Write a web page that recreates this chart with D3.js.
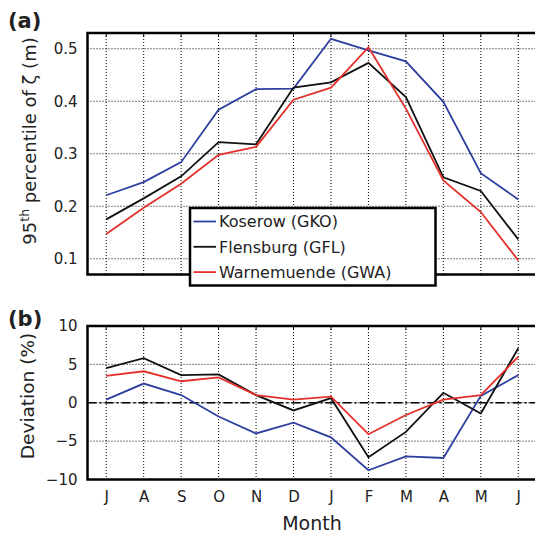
<!DOCTYPE html>
<html>
<head>
<meta charset="utf-8">
<script src="https://cdn.jsdelivr.net/npm/d3@7"></script>
<style>
  html, body { margin: 0; padding: 0; background: #fff; }
  svg { display: block; }
  text { font-family: "DejaVu Sans", sans-serif; fill: #222; }
</style>
</head>
<body>
<svg id="chart" width="535" height="536"></svg>
<script>
// ---- data ----
const months = ["J","A","S","O","N","D","J","F","M","A","M","J"];
const seriesNames = ["Koserow (GKO)", "Flensburg (GFL)", "Warnemuende (GWA)"];
const seriesColors = ["#2f3f9f", "#111111", "#e4302a"];

const p95Koserow     = [0.221, 0.246, 0.284, 0.384, 0.423, 0.424, 0.519, 0.497, 0.476, 0.399, 0.263, 0.213];
const p95Flensburg   = [0.175, 0.215, 0.257, 0.322, 0.318, 0.426, 0.436, 0.473, 0.408, 0.255, 0.229, 0.137];
const p95Warnemuende = [0.147, 0.197, 0.243, 0.298, 0.313, 0.403, 0.426, 0.503, 0.386, 0.249, 0.189, 0.097];

const devKoserow     = [0.4, 2.5, 1.0, -1.8, -4.0, -2.6, -4.5, -8.8, -7.0, -7.2, 0.9, 3.6];
const devFlensburg   = [4.5, 5.8, 3.6, 3.7, 1.0, -1.0, 0.6, -7.1, -3.8, 1.3, -1.4, 7.1];
const devWarnemuende = [3.5, 4.1, 2.8, 3.3, 1.0, 0.4, 0.8, -4.1, -1.6, 0.4, 1.0, 6.0];

const topTicks = [0.1, 0.2, 0.3, 0.4, 0.5];
const botTicks = [-10, -5, 0, 5, 10];

// ---- layout ----
const svg = d3.select("#chart");
const left = 87.5, right = 537;
const x = d3.scaleLinear().domain([0.5, 12.5]).range([left, right]);
const idx = d3.range(1, 13);

const yTop = d3.scaleLinear().domain([0.07, 0.53]).range([274.5, 33]);
const yBot = d3.scaleLinear().domain([-10, 10]).range([479.5, 326]);

function panel(y, ticks, fmt, top, bottom) {
  const g = svg.append("g");
  g.selectAll(".vg").data(idx).enter().append("line")
    .attr("x1", d => x(d)).attr("x2", d => x(d))
    .attr("y1", top).attr("y2", bottom)
    .attr("stroke", "#000").attr("stroke-width", 1).attr("stroke-dasharray", "1,2");
  g.selectAll(".hg").data(ticks.filter(t => y(t) > top + 1 && y(t) < bottom - 1)).enter().append("line")
    .attr("x1", left).attr("x2", right)
    .attr("y1", d => y(d)).attr("y2", d => y(d))
    .attr("stroke", "#000").attr("stroke-width", 1).attr("stroke-dasharray", "1,2");
  g.selectAll(".tt").data(idx).enter().append("line")
    .attr("x1", d => x(d)).attr("x2", d => x(d))
    .attr("y1", top).attr("y2", top + 4)
    .attr("stroke", "#000").attr("stroke-width", 1);
  const ax = d3.axisLeft(y).tickValues(ticks).tickFormat(fmt).tickSize(0).tickPadding(10);
  const ag = g.append("g").attr("transform", `translate(${left},0)`).call(ax);
  ag.select(".domain").remove();
  ag.selectAll("text").style("font-size", "15px").style("font-family", "DejaVu Sans, sans-serif").attr("fill", "#222");
  return g;
}

// ---- top panel ----
const gTop = panel(yTop, topTicks, d3.format(".1f"), 33, 274.5);
const lineTop = d3.line().x((d, i) => x(i + 1)).y(d => yTop(d));
[p95Koserow, p95Flensburg, p95Warnemuende].forEach((s, k) => {
  gTop.append("path").datum(s).attr("d", lineTop)
    .attr("fill", "none").attr("stroke", seriesColors[k]).attr("stroke-width", 1.8);
});
gTop.append("path")
  .attr("d", `M${right},33H${left}V274.5H${right}`)
  .attr("fill", "none").attr("stroke", "#000").attr("stroke-width", 2.5);

// legend
const lg = svg.append("g");
lg.append("rect").attr("x", 190).attr("y", 208).attr("width", 245.5).attr("height", 77.5)
  .attr("fill", "#fff").attr("stroke", "#000").attr("stroke-width", 2.5);
seriesNames.forEach((n, k) => {
  const yy = 221.5 + k * 25.3;
  lg.append("line").attr("x1", 193.5).attr("x2", 216).attr("y1", yy).attr("y2", yy)
    .attr("stroke", seriesColors[k]).attr("stroke-width", 1.8);
  lg.append("text").attr("x", 219).attr("y", yy + 5.8).style("font-size", "16px").text(n);
});

// ---- bottom panel ----
const gBot = panel(yBot, botTicks, d3.format("d"), 326, 479.5);
gBot.selectAll(".tick text").text(d => d < 0 ? "\u2212" + Math.abs(d) : d);
gBot.append("line").attr("x1", left).attr("x2", right)
  .attr("y1", yBot(0)).attr("y2", yBot(0))
  .attr("stroke", "#000").attr("stroke-width", 1.6).attr("stroke-dasharray", "9,3,2,3");
const lineBot = d3.line().x((d, i) => x(i + 1)).y(d => yBot(d));
[devKoserow, devFlensburg, devWarnemuende].forEach((s, k) => {
  gBot.append("path").datum(s).attr("d", lineBot)
    .attr("fill", "none").attr("stroke", seriesColors[k]).attr("stroke-width", 1.8);
});
gBot.append("path")
  .attr("d", `M${right},326H${left}V479.5H${right}`)
  .attr("fill", "none").attr("stroke", "#000").attr("stroke-width", 2.5);

// x axis labels
const xa = d3.axisBottom(x).tickValues(idx).tickFormat(d => months[d - 1]).tickSize(0).tickPadding(12);
const xg = svg.append("g").attr("transform", "translate(0,479.5)").call(xa);
xg.select(".domain").remove();
xg.selectAll("text").style("font-size", "15px").style("font-family", "DejaVu Sans, sans-serif").attr("fill", "#222");

// ---- titles ----
svg.append("text").attr("x", 8).attr("y", 28).style("font-size", "21px").style("font-weight", "bold").attr("fill", "#111").text("(a)");
svg.append("text").attr("x", 8).attr("y", 326).style("font-size", "21px").style("font-weight", "bold").attr("fill", "#111").text("(b)");

const yt = svg.append("text").attr("transform", "translate(36,141) rotate(-90)")
  .attr("text-anchor", "middle").style("font-size", "18px");
yt.append("tspan").text("95");
yt.append("tspan").attr("dy", -7.5).style("font-size", "12.5px").text("th");
yt.append("tspan").attr("dy", 7.5).text(" percentile of \u03B6 (m)");

svg.append("text").attr("transform", "translate(34,396) rotate(-90)")
  .attr("text-anchor", "middle").style("font-size", "18.5px").text("Deviation (%)");

svg.append("text").attr("x", 312).attr("y", 530).attr("text-anchor", "middle")
  .style("font-size", "19px").text("Month");
</script>
</body>
</html>
